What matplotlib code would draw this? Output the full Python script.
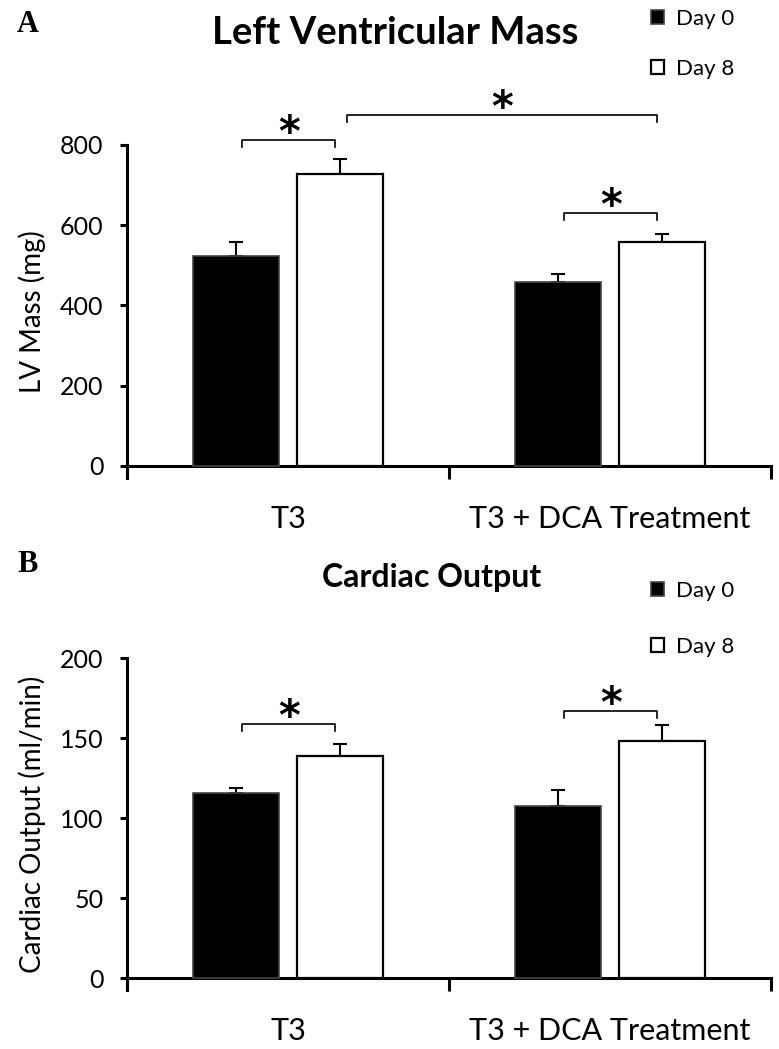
import numpy as np
import matplotlib
matplotlib.use("Agg")
import matplotlib.pyplot as plt

plt.rcParams["font.family"] = ["Lato", "DejaVu Sans"]

categories = ["T3", "T3 + DCA Treatment"]
series = ["Day 0", "Day 8"]

# panel A: left ventricular mass (mg), mean and upper SEM
lv_day0 = [523, 459]
lv_day8 = [728, 558]
lv_err0 = [35, 20]
lv_err8 = [37, 21]

# panel B: cardiac output (ml/min)
co_day0 = [115.5, 107.5]
co_day8 = [138.5, 148.4]
co_err0 = [3.5, 10]
co_err8 = [8, 9.5]

# significance brackets: (bar index a, bar index b, height)
# bar index = 2*category + series
lv_sig = [(0, 1, 813), (1, 3, 875), (2, 3, 631)]
co_sig = [(0, 1, 159), (2, 3, 167)]

OFF = 0.162
WIDTH = 0.268


def bar_x(idx):
    cat, s = divmod(idx, 2)
    return cat + (OFF if s else -OFF)


def panel(ax, d0, d8, e0, e8, ymax, step, ylabel, sig, leg_top, leg_gap):
    x = np.arange(len(categories))
    b0 = ax.bar(x - OFF, d0, WIDTH, color="black", edgecolor="#444444",
                linewidth=1.2, zorder=3, label=series[0])
    b8 = ax.bar(x + OFF, d8, WIDTH, color="white", edgecolor="black",
                linewidth=1.6, zorder=3, label=series[1])
    ax.errorbar(x - OFF, d0, yerr=[np.zeros(2), e0], fmt="none",
                ecolor="black", elinewidth=1.5, capsize=5, capthick=1.5,
                zorder=2)
    ax.errorbar(x + OFF, d8, yerr=[np.zeros(2), e8], fmt="none",
                ecolor="black", elinewidth=1.5, capsize=5, capthick=1.5,
                zorder=2)

    ax.set_xlim(-0.5, 1.5)
    ax.set_ylim(-ymax * 0.0375, ymax)
    ax.spines["bottom"].set_position(("data", 0))
    for sp in ("top", "right"):
        ax.spines[sp].set_visible(False)
    for sp in ("left", "bottom"):
        ax.spines[sp].set_linewidth(2.2)

    ax.set_yticks(np.arange(0, ymax + 1, step))
    ax.tick_params(axis="y", direction="out", length=5, width=2.2,
                   labelsize=18, pad=12)
    ax.set_xticks([-0.5, 0.5, 1.5])
    ax.set_xticklabels([])
    ax.tick_params(axis="x", which="major", direction="out", length=9,
                   width=2.2)
    ax.set_xticks(x, minor=True)
    ax.set_xticklabels(categories, minor=True)
    ax.tick_params(axis="x", which="minor", length=0, labelsize=22, pad=28)

    ax.set_ylabel(ylabel, fontsize=20, labelpad=10)

    # significance brackets
    drop = ymax * 0.022
    for a, b, h in sig:
        xa, xb = bar_x(a) + 0.02, bar_x(b) - 0.015
        ax.plot([xa, xa, xb, xb], [h - drop, h, h, h - drop], color="black",
                lw=1.2, clip_on=False, zorder=4)
        ax.annotate("*", ((xa + xb) / 2, h), xytext=(0, -4.5),
                    textcoords="offset points", fontsize=30,
                    fontweight="bold", ha="center", va="baseline",
                    family="DejaVu Sans", annotation_clip=False)

    ax.legend(handles=[b0, b8], loc="upper left",
              bbox_to_anchor=(640 / 779, leg_top),
              bbox_transform=ax.figure.transFigure,
              frameon=False, fontsize=16, handlelength=0.6, handleheight=0.6,
              handletextpad=0.5, labelspacing=leg_gap, borderpad=0)


fig = plt.figure(figsize=(7.79, 10.49), dpi=100)
axA = fig.add_axes([127 / 779, 1 - 478 / 1049, 644 / 779, 333 / 1049])
axB = fig.add_axes([127 / 779, 1 - 990 / 1049, 644 / 779, 332 / 1049])

panel(axA, lv_day0, lv_day8, lv_err0, lv_err8, 800, 200, "LV Mass (mg)",
      lv_sig, 1 + 2 / 1049, 1.35)
panel(axB, co_day0, co_day8, co_err0, co_err8, 200, 50,
      "Cardiac Output (ml/min)", co_sig, 1 - 570 / 1049, 1.6)

fig.text(395 / 779, 1 - 33 / 1049, "Left Ventricular Mass", fontsize=27.5,
         fontweight="bold", ha="center", va="center")
fig.text(432 / 779, 1 - 578 / 1049, "Cardiac Output", fontsize=23,
         fontweight="bold", ha="center", va="center")
fig.text(28 / 779, 1 - 25 / 1049, "A", fontsize=22, fontweight="bold",
         family="Liberation Serif", ha="center", va="center")
fig.text(28 / 779, 1 - 565 / 1049, "B", fontsize=22, fontweight="bold",
         family="Liberation Serif", ha="center", va="center")

fig.savefig("out.png", dpi=100)
